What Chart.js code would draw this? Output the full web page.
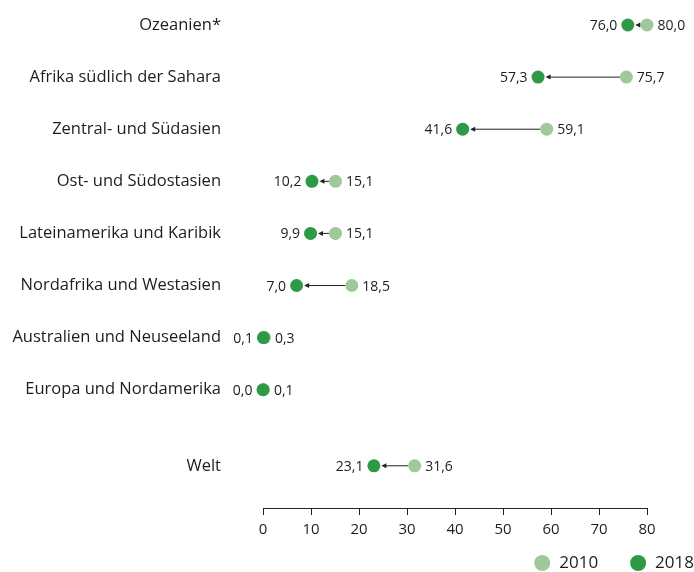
<!DOCTYPE html>
<html>
<head>
<meta charset="utf-8">
<script src="https://cdn.jsdelivr.net/npm/chart.js@4"></script>
<style>
  html, body { margin: 0; padding: 0; background: #fff; }
  #wrap { width: 694px; height: 572px; }
</style>
</head>
<body>
<div id="wrap"><canvas id="chart"></canvas></div>
<script>
// Regions and values (percent)
var regions = [
  'Ozeanien*',
  'Afrika südlich der Sahara',
  'Zentral- und Südasien',
  'Ost- und Südostasien',
  'Lateinamerika und Karibik',
  'Nordafrika und Westasien',
  'Australien und Neuseeland',
  'Europa und Nordamerika',
  'Welt'
];
var values2010 = [80.0, 75.7, 59.1, 15.1, 15.1, 18.5, 0.3, 0.1, 31.6];
var values2018 = [76.0, 57.3, 41.6, 10.2, 9.9, 7.0, 0.1, 0.0, 23.1];
// row slots; "Welt" sits a bit further down after a gap
var rowSlots = [0, 1, 2, 3, 4, 5, 6, 7, 8.46];
var xTicks = [0, 10, 20, 30, 40, 50, 60, 70, 80];

var FONT = '"Open Sans", Lato, sans-serif';
var LIGHT = '#9fc89b';
var DARK = '#2e9a48';
var TEXT = '#1d1d1b';
var R = 6.5;

function fmt(v) { return v.toFixed(1).replace('.', ','); }

// arrows from 2010 dot to 2018 dot
var arrowPlugin = {
  id: 'arrows',
  beforeDatasetsDraw: function(chart) {
    var ctx = chart.ctx;
    var a = chart.getDatasetMeta(0).data;
    var b = chart.getDatasetMeta(1).data;
    ctx.save();
    for (var i = 0; i < a.length; i++) {
      var x1 = a[i].x - R, x2 = b[i].x + R + 1, y = a[i].y;
      if (x1 - x2 < 4) continue;
      ctx.strokeStyle = '#222';
      ctx.fillStyle = '#222';
      ctx.lineWidth = 1;
      ctx.beginPath();
      ctx.moveTo(x1, y);
      ctx.lineTo(x2 + 4, y);
      ctx.stroke();
      ctx.beginPath();
      ctx.moveTo(x2, y);
      ctx.lineTo(x2 + 5, y - 2.5);
      ctx.lineTo(x2 + 5, y + 2.5);
      ctx.closePath();
      ctx.fill();
    }
    ctx.restore();
  }
};

// value labels beside the dots
var labelPlugin = {
  id: 'valueLabels',
  afterDatasetsDraw: function(chart) {
    var ctx = chart.ctx;
    var a = chart.getDatasetMeta(0).data;
    var b = chart.getDatasetMeta(1).data;
    ctx.save();
    ctx.font = '14px ' + FONT;
    ctx.fillStyle = TEXT;
    ctx.textBaseline = 'middle';
    for (var i = 0; i < a.length; i++) {
      ctx.textAlign = 'left';
      ctx.fillText(fmt(values2010[i]), a[i].x + R + 4, a[i].y + 1);
      ctx.textAlign = 'right';
      ctx.fillText(fmt(values2018[i]), b[i].x - R - 4, b[i].y + 1);
    }
    ctx.restore();
  }
};

// legend in the bottom right corner, flush with the canvas edge
var legendPlugin = {
  id: 'cornerLegend',
  afterDraw: function(chart) {
    var ctx = chart.ctx;
    var sets = chart.data.datasets;
    var y = chart.height - 9;
    var x = chart.width;
    ctx.save();
    ctx.font = '17px ' + FONT;
    ctx.textBaseline = 'middle';
    ctx.textAlign = 'left';
    for (var i = sets.length - 1; i >= 0; i--) {
      var w = ctx.measureText(sets[i].label).width;
      var tx = x - w;
      ctx.fillStyle = TEXT;
      ctx.fillText(sets[i].label, tx, y);
      ctx.fillStyle = sets[i].backgroundColor;
      ctx.beginPath();
      ctx.arc(tx - 17, y, 8, 0, Math.PI * 2);
      ctx.fill();
      x = tx - 17 - 8 - 32;
    }
    ctx.restore();
  }
};

new Chart(document.getElementById('chart'), {
  type: 'scatter',
  data: {
    datasets: [
      {
        label: '2010',
        data: values2010.map(function(v, i) { return { x: v, y: rowSlots[i] }; }),
        backgroundColor: LIGHT,
        borderColor: LIGHT,
        pointRadius: R,
        pointHoverRadius: R,
        borderWidth: 0,
        clip: false,
        order: 2
      },
      {
        label: '2018',
        data: values2018.map(function(v, i) { return { x: v, y: rowSlots[i] }; }),
        backgroundColor: DARK,
        borderColor: DARK,
        pointRadius: R,
        pointHoverRadius: R,
        borderWidth: 0,
        clip: false,
        order: 1
      }
    ]
  },
  options: {
    responsive: true,
    maintainAspectRatio: false,
    animation: false,
    layout: { autoPadding: false, padding: { left: 0, right: 47, top: 0, bottom: 27 } },
    plugins: {
      tooltip: { enabled: false },
      legend: { display: false }
    },
    scales: {
      x: {
        type: 'linear',
        min: 0,
        max: 80,
        afterBuildTicks: function(scale) {
          scale.ticks = xTicks.map(function(v) { return { value: v }; });
        },
        grid: {
          drawOnChartArea: false,
          drawTicks: true,
          tickLength: 7,
          color: '#222'
        },
        border: { display: true, color: '#222', width: 1 },
        ticks: {
          color: TEXT,
          padding: 6,
          font: { family: FONT, size: 15 }
        }
      },
      y: {
        type: 'linear',
        reverse: true,
        min: -0.48,
        max: 9.27,
        afterBuildTicks: function(scale) {
          scale.ticks = rowSlots.map(function(v) { return { value: v }; });
        },
        afterFit: function(scale) {
          scale.width = 263;
          scale.paddingTop = 0;
          scale.paddingBottom = 0;
        },
        grid: { display: false },
        border: { display: false },
        ticks: {
          color: TEXT,
          padding: 34,
          font: { family: FONT, size: 16.5 },
          callback: function(value) {
            var i = rowSlots.indexOf(value);
            return i >= 0 ? regions[i] : '';
          }
        }
      }
    }
  },
  plugins: [arrowPlugin, labelPlugin, legendPlugin]
});
</script>
</body>
</html>
